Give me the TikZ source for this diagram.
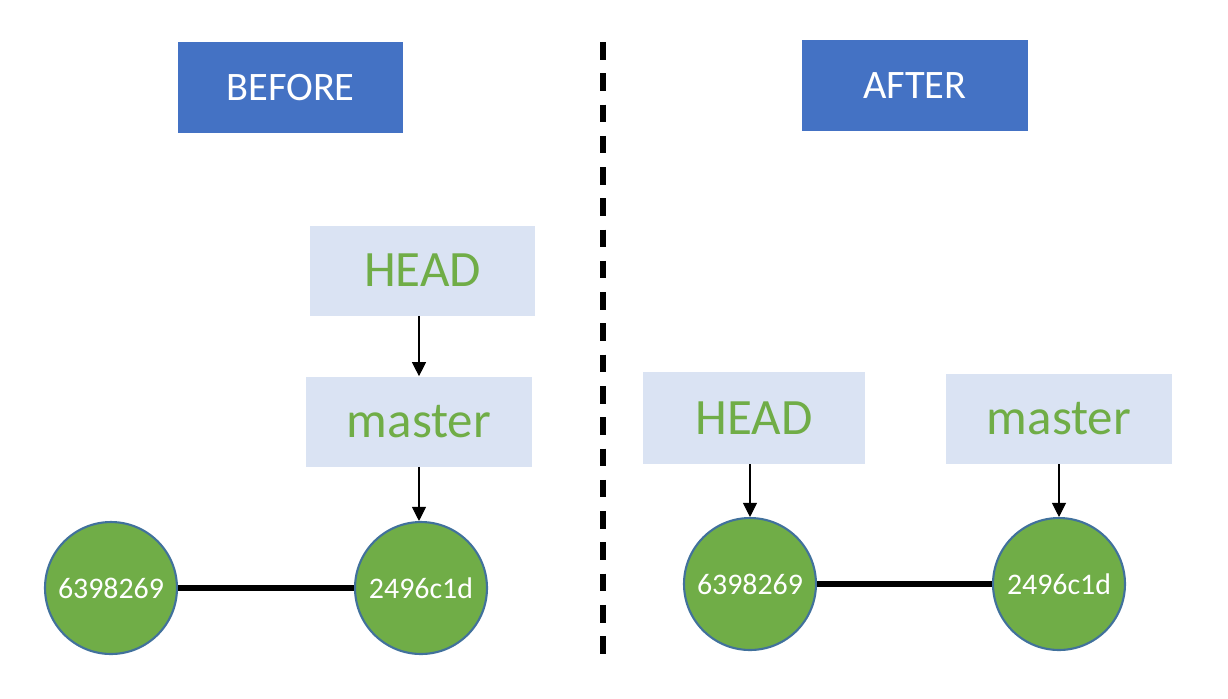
\documentclass[tikz,border=0pt]{standalone}
\usepackage{fontspec}
\setmainfont{Carlito}
\usepackage{xcolor}
\usetikzlibrary{arrows.meta,positioning}

\definecolor{titleblue}{HTML}{4472C4}
\definecolor{refbg}{HTML}{DAE3F3}
\definecolor{gitgreen}{HTML}{70AD47}
\definecolor{ringblue}{HTML}{41719C}

\begin{document}
\begin{tikzpicture}[
  x=0.02cm, y=-0.02cm,
  title/.style={fill=titleblue, minimum width=4.5cm, minimum height=1.82cm,
    text=white, font=\fontsize{23}{27}\selectfont},
  ref/.style={fill=refbg, minimum width=4.5cm, minimum height=1.8cm,
    text=gitgreen, font=\fontsize{29}{34}\selectfont},
  commit/.style={circle, fill=gitgreen, draw=ringblue, line width=1.2pt,
    minimum size=2.64cm, inner sep=0pt, text=white,
    font=\fontsize{17}{20}\selectfont},
  arr/.style={-{Triangle[length=8pt, width=8pt]}, line width=0.6pt},
  link/.style={line width=3pt}
]
  \useasboundingbox (0,0) rectangle (1228,698);

  % before
  \node[title] (before) at (290.5,87.5) {BEFORE};
  \node[ref, minimum width=4.5cm] (headA) at (422.5,270.5) {HEAD};
  \node[ref, minimum width=4.52cm] (masterA) at (419,421.5) {master};
  \node[commit] (oldA) at (111,588) {6398269};
  \node[commit] (newA) at (421,588) {2496c1d};

  \draw[arr] (headA.south -| masterA) -- (masterA);
  \draw[arr] (masterA) -- (masterA.south |- newA.north);
  \draw[link] (oldA) -- (newA);

  % divider
  \coordinate (top) at (603,42);
  \coordinate (bottom) at (603,657);
  \draw[line width=3.1pt, dash pattern=on 10pt off 7.8pt] (top) -- (bottom);

  % after
  \node[title, minimum width=4.52cm] (after) at (915,85.5) {AFTER};
  \node[ref, minimum width=4.44cm, minimum height=1.84cm] (headB) at (754,418) {HEAD};
  \node[ref, minimum width=4.52cm] (masterB) at (1059,419) {master};
  \node[commit] (oldB) at (750,584) {6398269};
  \node[commit] (newB) at (1059,584) {2496c1d};

  \draw[arr] (headB.south -| oldB) -- (oldB);
  \draw[arr] (masterB) -- (newB);
  \draw[link] (oldB) -- (newB);
\end{tikzpicture}
\end{document}
